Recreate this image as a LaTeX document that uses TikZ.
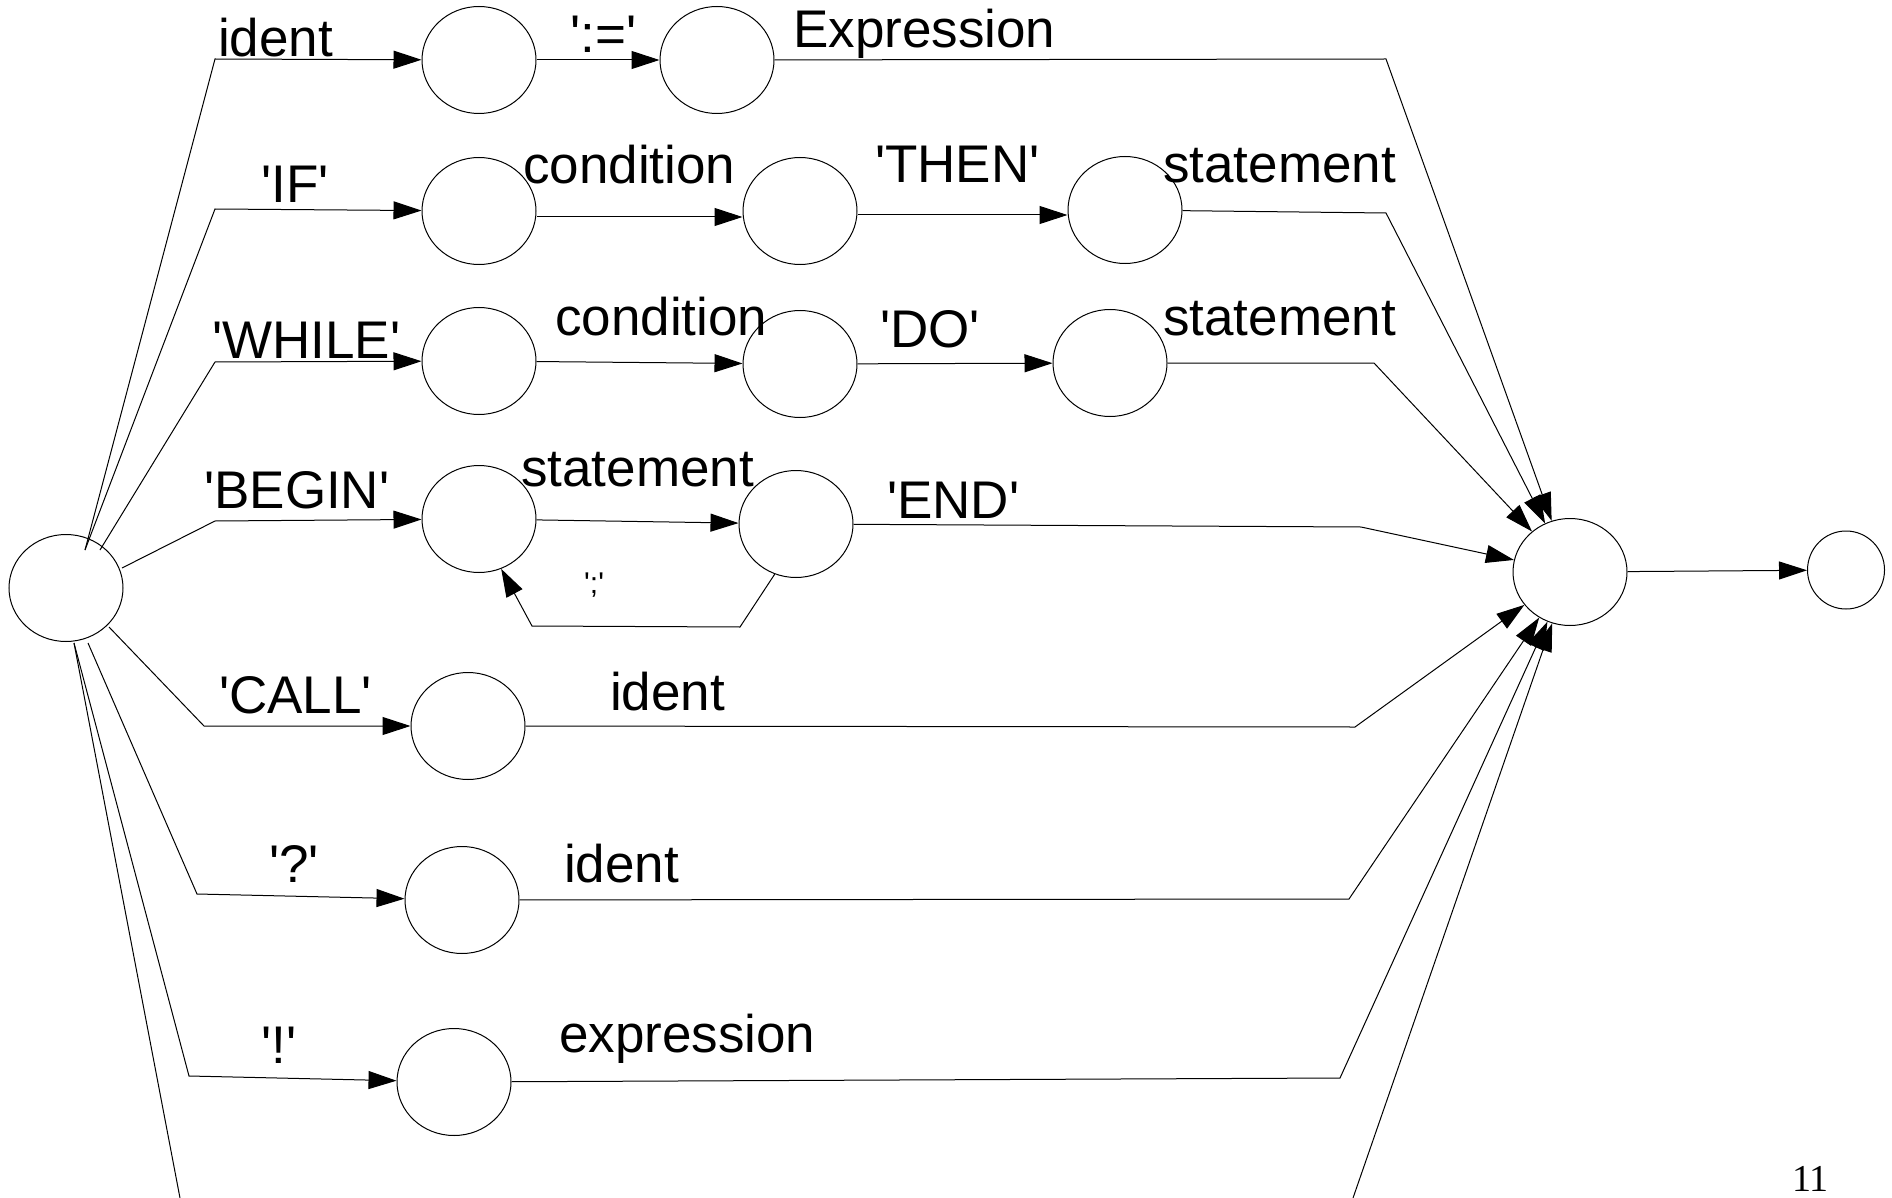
\documentclass[tikz,border=0pt]{standalone}
\usepackage{fontspec}
\setmainfont{Liberation Sans}
\newfontfamily\pagenofont{Liberation Serif}
\usetikzlibrary{shapes.geometric,arrows.meta}
% a quoted terminal symbol with straight quotes
\newcommand\tok[1]{\textquotesingle#1\textquotesingle}
\begin{document}
\begin{tikzpicture}[x=1pt,y=-1pt,
  state/.style={ellipse,draw,line width=1pt,minimum width=114pt,minimum height=107pt,inner sep=0pt},
  finalstate/.style={state,minimum width=77pt,minimum height=78pt},
  conn/.style={line width=1pt,line join=miter},
  arr/.style={conn,-{Triangle[length=28pt,width=18pt]}},
  lbl/.style={anchor=base west,inner sep=0pt,font=\fontsize{53}{60}\selectfont},
  smalllbl/.style={anchor=base west,inner sep=0pt,font=\fontsize{30}{34}\selectfont}]
\useasboundingbox (0,0) rectangle (1892,1198);

% states
\node[state] (S)   at (66,588)   {};
\node[state] (R1a) at (479,60)   {};
\node[state] (R1b) at (717,60)   {};
\node[state] (R2a) at (479,211)  {};
\node[state] (R2b) at (800,211)  {};
\node[state] (R2c) at (1125,210) {};
\node[state] (R3a) at (479,361)  {};
\node[state] (R3b) at (800,364)  {};
\node[state] (R3c) at (1110,363) {};
\node[state] (R4a) at (479,519)  {};
\node[state] (R4b) at (796,524)  {};
\node[state] (R5a) at (468,726)  {};
\node[state] (R6a) at (462,900)  {};
\node[state] (R7a) at (454,1082) {};
\node[state] (E)   at (1570,572) {};
\node[finalstate] (F) at (1846,570) {};

% bend points of the branches
\coordinate (l1) at (215,59);
\coordinate (l2) at (215,209);
\coordinate (l3) at (215,362);
\coordinate (l4) at (215,521);
\coordinate (l5) at (204,726);
\coordinate (l6) at (197,894);
\coordinate (l7) at (189,1076);
\coordinate (l8) at (180,1198);
\coordinate (r1) at (1386,59);
\coordinate (r2) at (1386,213);
\coordinate (r3) at (1374,363);
\coordinate (r4) at (1361,527);
\coordinate (r5) at (1355,727);
\coordinate (r6) at (1349,899);
\coordinate (r7) at (1340,1078);
\coordinate (r8) at (1353,1198);
\coordinate (lp1) at (740,627);
\coordinate (lp2) at (532,626);

% branches leaving the start state
\draw[arr] ([shift={(19,-38)}]S.center) -- (l1) -- (R1a);
\draw[arr] ([shift={(19,-38)}]S.center) -- (l2) -- (R2a);
\draw[arr] ([shift={(34,-38)}]S.center) -- (l3) -- (R3a);
\draw[arr] ([shift={(56,-20)}]S.center) -- (l4) -- (R4a);
\draw[arr] ([shift={(43,39)}]S.center)  -- (l5) -- (R5a);
\draw[arr] ([shift={(22,55)}]S.center)  -- (l6) -- (R6a);
\draw[arr] ([shift={(8,55)}]S.center)   -- (l7) -- (R7a);
\draw[conn] ([shift={(8,55)}]S.center)  -- (l8);

% inner transitions
\draw[arr] (R1a) -- (R1b);
\draw[arr] ([yshift=-6pt]R2a.east) -- ([yshift=-6pt]R2b.west);
\draw[arr] ([yshift=-4pt]R2b.east) -- ([yshift=-5pt]R2c.west);
\draw[arr] (R3a) -- (R3b);
\draw[arr] (R3b) -- (R3c);
\draw[arr] (R4a) -- (R4b);
\draw[arr] (R4b.-113) -- (lp1) -- (lp2) -- (R4a.-66);

% branches joining the end state
\draw[arr] (R1b) -- (r1) -- (E);
\draw[arr] (R2c) -- (r2) -- (E);
\draw[arr] (R3c) -- (r3) -- (E);
\draw[arr] (R4b) -- (r4) -- (E);
\draw[arr] (R5a) -- (r5) -- (E);
\draw[arr] (R6a) -- (r6) -- (E);
\draw[arr] (R7a) -- (r7) -- (E);
\draw[arr] (r8) -- (E);
\draw[arr] (E) -- (F);

% labels
\node[lbl] (t1)  at (218,57)   {ident};
\node[lbl] (t2)  at (570,53)   {\tok{:=}};
\node[lbl] (t3)  at (793,48)   {Expression};
\node[lbl] (t4)  at (261,203)  {\tok{IF}};
\node[lbl] (t5)  at (523,184)  {condition};
\node[lbl] (t6)  at (875,183)  {\tok{THEN}};
\node[lbl] (t7)  at (1163,183) {statement};
\node[lbl] (t8)  at (212,358)  {\tok{WHILE}};
\node[lbl] (t9)  at (555,335)  {condition};
\node[lbl] (t10) at (880,347)  {\tok{DO}};
\node[lbl] (t11) at (1163,335) {statement};
\node[lbl] (t12) at (204,508)  {\tok{BEGIN}};
\node[lbl] (t13) at (521,486)  {statement};
\node[lbl] (t14) at (887,518)  {\tok{END}};
\node[smalllbl] (t15) at (584,593) {\tok{;}};
\node[lbl] (t16) at (219,713)  {\tok{CALL}};
\node[lbl] (t17) at (610,710)  {ident};
\node[lbl] (t18) at (269,882)  {\tok{?}};
\node[lbl] (t19) at (564,882)  {ident};
\node[lbl] (t20) at (261,1063) {\tok{!}};
\node[lbl] (t21) at (559,1052) {expression};
\node[anchor=base west,inner sep=0pt,font=\pagenofont\fontsize{38}{42}\selectfont] (pg) at (1792,1191) {11};
\end{tikzpicture}
\end{document}
